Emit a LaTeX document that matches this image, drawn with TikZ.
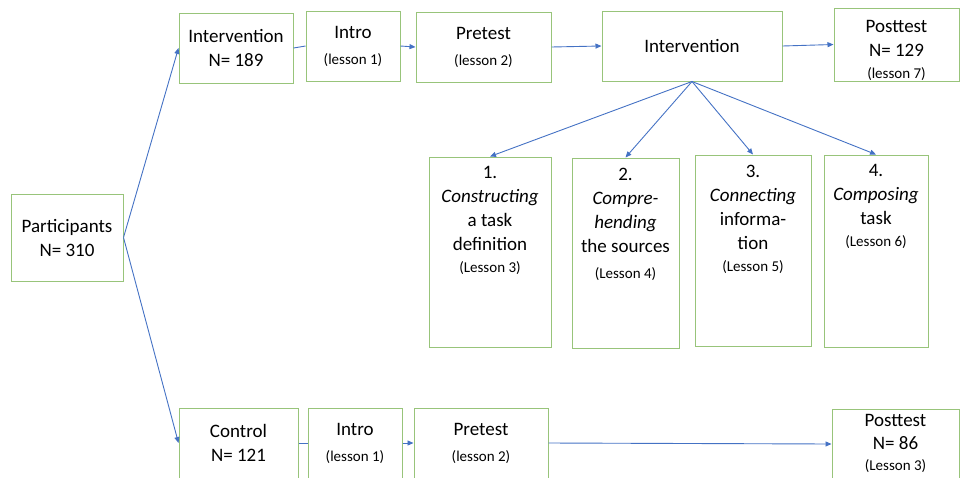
\documentclass[tikz,border=0pt]{standalone}
\usepackage{fontspec}
\setmainfont{Carlito}
\usetikzlibrary{arrows.meta}
\definecolor{boxgreen}{RGB}{152,196,122}
\definecolor{linkblue}{RGB}{68,114,196}
\newcommand{\lsn}[1]{{\fontsize{15}{18}\selectfont #1}}
\tikzset{
	box/.style={draw=boxgreen, line width=1pt, align=center, inner sep=0pt, font=\fontsize{19}{24}\selectfont},
	task/.style={anchor=north, align=center, inner sep=0pt, yshift=-10pt, font=\fontsize{19}{24}\selectfont},
	link/.style={draw=linkblue, line width=0.9pt, -{Triangle[length=6pt,width=5pt]}},
	plain/.style={draw=linkblue, line width=0.9pt},
}

\begin{document}
\begin{tikzpicture}[x=1pt, y=-1pt]
		%%%%% START %%%%%
		\useasboundingbox (0,0) rectangle (960,477);
		
		\node[box, minimum width=112pt, minimum height=87pt] (part) at (67,237.5) {Participants\\N= 310};
		
		% intervention group
		\node[box, minimum width=114pt, minimum height=70pt] (intv) at (236,48) {Intervention\\N= 189};
		\node[box, minimum width=94pt, minimum height=70pt] (introA) at (353,46) {Intro\\[2pt]\lsn{(lesson 1)}};
		\node[box, minimum width=135pt, minimum height=70pt] (preA) at (483.5,47) {Pretest\\[2pt]\lsn{(lesson 2)}};
		\node[box, minimum width=180pt, minimum height=70pt] (interv) at (692,46) {Intervention};
		\node[box, minimum width=125pt, minimum height=73pt, label={[task, yshift=-3pt]north:Posttest\\N= 129\\[-2pt]\lsn{(lesson 7)}}] (postA) at (896.5,44.5) {};
		
		% the four lessons
		\node[box, minimum width=122pt, minimum height=190pt, label={[task]north:1.\\\textit{Constructing}\\a task\\definition\\[-2pt]\lsn{(Lesson 3)}}] (s1) at (490,252) {};
		\node[box, minimum width=107pt, minimum height=190pt, label={[task]north:2.\\\textit{Compre-}\\\textit{hending}\\the sources\\[2pt]\lsn{(Lesson 4)}}] (s2) at (625.5,253) {};
		\node[box, minimum width=116pt, minimum height=191pt, label={[task]north:3.\\\textit{Connecting}\\informa-\\tion\\[-2pt]\lsn{(Lesson 5)}}] (s3) at (753,250.5) {};
		\node[box, minimum width=104pt, minimum height=192pt, label={[task]north:4.\\\textit{Composing}\\task\\[-2pt]\lsn{(Lesson 6)}}] (s4) at (876,251) {};
		
		% control group
		\node[box, minimum width=119pt, minimum height=70pt] (ctrl) at (238.5,443) {Control\\N= 121};
		\node[box, minimum width=94pt, minimum height=70pt] (introB) at (355,443) {Intro\\[2pt]\lsn{(lesson 1)}};
		\node[box, minimum width=134pt, minimum height=70pt] (preB) at (481,443) {Pretest\\[2pt]\lsn{(lesson 2)}};
		\node[box, minimum width=127pt, minimum height=70pt, label={[task, yshift=4pt]north:Posttest\\[-1pt]N= 86\\[-3pt]\lsn{(Lesson 3)}}] (postB) at (895.5,444) {};
		
		\draw[link] (part.east) -- (intv.west);
		\draw[link] (part.east) -- (ctrl.west);
		
		\draw[plain] (intv.east) -- (introA.west);
		\draw[link] (introA.east) -- (preA.west);
		\draw[link] (preA.east) -- (interv.west);
		\draw[link] (interv.east) -- (postA.west);
		
		\foreach \s in {s1,s2,s3,s4}
			\draw[link] (interv.south) -- (\s.north);
		
		\draw[plain] (ctrl.east) -- (introB.west);
		\draw[link] (introB.east) -- (preB.west);
		\draw[link] (preB.east) -- (postB.west);
		%%%%% END %%%%%
	\end{tikzpicture}
\end{document}
